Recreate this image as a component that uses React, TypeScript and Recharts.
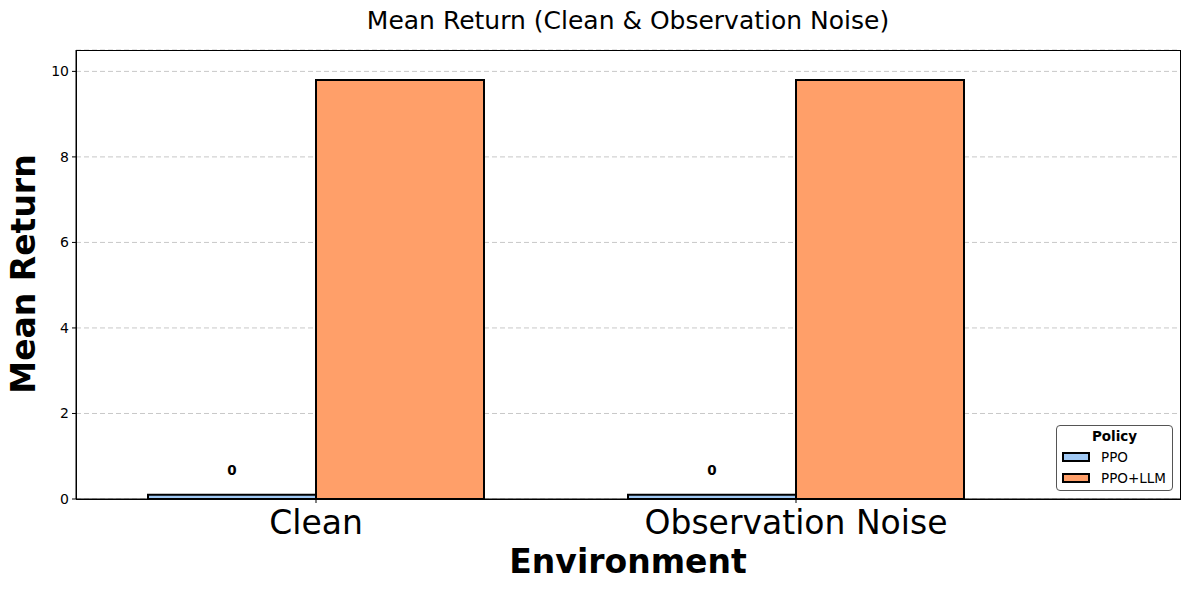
import React from 'react';
import { Bar, BarChart, CartesianGrid, LabelList, XAxis, YAxis } from 'recharts';

// values
const categories = ['Clean', 'Observation Noise'];
const ppoValues = [0.1, 0.1];
const ppoLlmValues = [9.8, 9.8];
const yTicks = [0, 2, 4, 6, 8, 10];

const data = categories.map((name, i) => ({ name, PPO: ppoValues[i], 'PPO+LLM': ppoLlmValues[i] }));

const FONT = '"DejaVu Sans", sans-serif';
const BLUE = '#a1c9f4';
const ORANGE = '#ff9f69';

const App = () => {
  return (
    <div style={{ position: 'absolute', left: 0, top: 0, width: 1190, height: 590, background: '#fff', fontFamily: FONT }}>
      <BarChart
        width={1190}
        height={590}
        data={data}
        margin={{ top: 50, right: 10, bottom: 0, left: 0 }}
        barCategoryGap={72}
        barGap={0}
      >
        <CartesianGrid vertical={false} stroke="#c8c8c8" strokeDasharray="5 3" />
        <XAxis
          dataKey="name"
          height={91}
          padding={{ left: 0, right: 144 }}
          stroke="#000"
          tickSize={4}
          tickMargin={8}
          tick={{ fill: '#000', fontSize: 33, fontFamily: FONT }}
        />
        <YAxis
          width={76}
          domain={[0, 10.5]}
          ticks={yTicks}
          stroke="#000"
          tickSize={4}
          tickMargin={3}
          tick={{ fill: '#000', fontSize: 14, fontFamily: FONT }}
        />
        <Bar dataKey="PPO" fill={BLUE} stroke="#000" strokeWidth={2} isAnimationActive={false}>
          <LabelList
            dataKey="PPO"
            position="top"
            offset={20}
            formatter={(v: any) => Math.round(Number(v)).toString()}
            style={{ fill: '#000', fontSize: 13.5, fontWeight: 'bold', fontFamily: FONT }}
          />
        </Bar>
        <Bar dataKey="PPO+LLM" fill={ORANGE} stroke="#000" strokeWidth={2} isAnimationActive={false} />
      </BarChart>

      {/* frame around the plot area */}
      <div style={{ position: 'absolute', left: 76, top: 50, width: 1105, height: 450, border: '1px solid #000', boxSizing: 'border-box', pointerEvents: 'none' }} />

      <div style={{ position: 'absolute', left: 0, width: 1256, top: 5, textAlign: 'center', fontSize: 25, lineHeight: '32px', color: '#000' }}>
        Mean Return (Clean &amp; Observation Noise)
      </div>

      <div style={{ position: 'absolute', left: 76, width: 1104, top: 542, textAlign: 'center', fontSize: 33, lineHeight: '40px', fontWeight: 'bold', color: '#000' }}>
        Environment
      </div>

      <div style={{ position: 'absolute', left: 24 - 150, top: 274 - 20, width: 300, height: 40, lineHeight: '40px', textAlign: 'center', fontSize: 33, fontWeight: 'bold', color: '#000', transform: 'rotate(-90deg)' }}>
        Mean Return
      </div>

      {/* legend */}
      <div style={{ position: 'absolute', left: 1056, top: 425, width: 117, height: 66, border: '1px solid #555', borderRadius: 4, boxSizing: 'border-box', background: '#fff', fontSize: 13.5, color: '#000' }}>
        <div style={{ position: 'absolute', left: 0, right: 0, top: 2, textAlign: 'center', fontWeight: 'bold' }}>Policy</div>
        {[['PPO', BLUE], ['PPO+LLM', ORANGE]].map(([name, color], i) => (
          <div key={name} style={{ position: 'absolute', left: 5, top: 23 + i * 21, height: 16, display: 'flex', alignItems: 'center' }}>
            <div style={{ width: 28, height: 10, background: color, border: '2px solid #000', boxSizing: 'border-box' }} />
            <span style={{ marginLeft: 11 }}>{name}</span>
          </div>
        ))}
      </div>
    </div>
  );
};

export default App;
